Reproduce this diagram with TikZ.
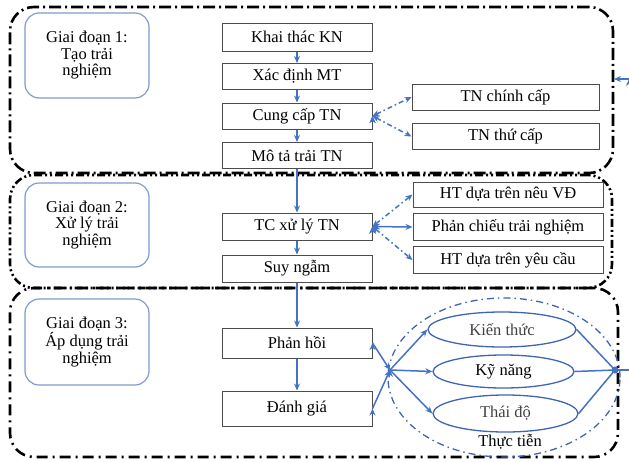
\documentclass[tikz,border=0pt]{standalone}
\usepackage{fontspec}
\setmainfont{Liberation Serif}
\usetikzlibrary{arrows.meta, positioning, shapes.geometric}

\definecolor{flowblue}{HTML}{4472C4}
\definecolor{labelblue}{HTML}{7F9BCF}
\definecolor{ovalblue}{HTML}{3F64B4}

\begin{document}
\begin{tikzpicture}[x = 1pt, y = -1pt, % pixel grid, y downwards
                > = {Stealth[length = 7pt, width = 6pt]}, % arrow head style
                node distance = 39.5pt, % distance between steps
                semithick % line style
            ]

            \tikzstyle{every node}=[font = \fontsize{16.5}{16.5}\selectfont,
            inner sep = 1pt]
            \tikzstyle{stageframe}=[draw = black, line width = 2.6pt,
            rounded corners = 24pt]
            \tikzstyle{stagelabel}=[draw = labelblue, line width = 1.2pt,
            rounded corners = 14pt, minimum width = 124pt, align = center]
            \tikzstyle{stepbox}=[draw = black!70, line width = 1pt,
            minimum width = 150pt, minimum height = 26pt]
            \tikzstyle{sidebox}=[draw = black!70, line width = 1pt,
            minimum width = 190pt, minimum height = 26pt]
            \tikzstyle{oval}=[draw = ovalblue, line width = 1.3pt, ellipse,
            inner sep = 0pt, text = black!75]
            \tikzstyle{flow}=[->, draw = flowblue, line width = 1.5pt]
            \tikzstyle{dashflow}=[<->, draw = flowblue, line width = 1.5pt,
            dash pattern = on 5pt off 3pt on 1.5pt off 3pt]

            \useasboundingbox (0,0) rectangle (629,461);

            % stage frames
            \node[stageframe, minimum width = 603pt, minimum height = 166pt,
            dash pattern = on 12pt off 4pt on 2pt off 4pt] (s1) at (311.5,90) {};
            \node[stageframe, minimum width = 602pt, minimum height = 113pt,
            dash pattern = on 8pt off 3pt on 2pt off 3pt on 2pt off 3pt] (s2)
            at (311,231.5) {};
            \node[stageframe, minimum width = 608pt, minimum height = 169pt,
            dash pattern = on 11pt off 5pt on 2pt off 5pt] (s3) at (314,372.5) {};

            % stage labels
            \node[stagelabel, minimum height = 85pt] (g1) at (87,55.5)
            {Giai đoạn 1:\\ Tạo trải\\ nghiệm};
            \node[stagelabel, minimum height = 84pt] (g2) at (87,225)
            {Giai đoạn 2:\\ Xử lý trải\\ nghiệm};
            \node[stagelabel, minimum height = 86pt] (g3) at (87,342)
            {Giai đoạn 3:\\ Áp dụng trải\\ nghiệm};

            % stage 1
            \node[stepbox, minimum height = 28pt] (khai) at (297,37) {Khai thác KN};
            \node[stepbox] (xac) [below of=khai] {Xác định MT};
            \node[stepbox] (cung) [below of=xac] {Cung cấp TN};
            \node[stepbox] (mota) [below of=cung] {Mô tả trải TN};
            \node[sidebox, minimum width = 187pt] (chinh) at (505.5,97)
            {TN chính cấp};
            \node[sidebox, minimum width = 187pt] (thu) [below of=chinh]
            {TN thứ cấp};

            % stage 2
            \node[stepbox, minimum height = 27pt] (tc) at (297,226.5)
            {TC xử lý TN};
            \node[stepbox, minimum height = 27pt, node distance = 42pt] (suy)
            [below of=tc] {Suy ngẫm};
            \node[sidebox, minimum height = 25pt] (neu) at (508,194.5)
            {HT dựa trên nêu VĐ};
            \node[sidebox, minimum height = 27pt, node distance = 32.5pt] (phan)
            [below of=neu] {Phản chiếu trải nghiệm};
            \node[sidebox, minimum height = 27pt, node distance = 33pt] (yeu)
            [below of=phan] {HT dựa trên yêu cầu};

            % stage 3
            \node[stepbox, minimum height = 30pt] (hoi) at (297,343) {Phản hồi};
            \node[stepbox, minimum height = 35pt, node distance = 65.5pt] (gia)
            [below of=hoi] {Đánh giá};
            \node[draw = ovalblue, ellipse, line width = 1.3pt,
            dash pattern = on 7pt off 4pt on 1.5pt off 4pt, minimum width = 232pt,
            minimum height = 159pt] (thuc) at (504,377.5) {};
            \node[oval, minimum width = 148pt, minimum height = 35pt] (kien)
            at (502,329.5) {Kiến thức};
            \node[oval, minimum width = 141pt, minimum height = 33pt,
            text = black] (ky) at (503.5,371.5) {Kỹ năng};
            \node[oval, minimum width = 145pt, minimum height = 37pt] (thai)
            at (505.5,413.5) {Thái độ};
            \node (thuctien) at (510,442) {Thực tiễn};

            \coordinate (inL) at (390,370);
            \coordinate (inR) at (615,370);
            \coordinate (outR) at (629,370);
            \coordinate (backR) at (629,79);
            \coordinate (backL) at (614,79);

            \path[flow] (khai) edge (xac); \path[flow] (xac) edge (cung);
            \path[flow] (cung) edge (mota); \path[flow] (mota) edge (tc);
            \path[flow] (tc) edge (suy); \path[flow] (suy) edge (hoi);
            \path[flow] (hoi) edge (gia);

            \path[dashflow] (cung.east) edge (chinh.west)
            edge (thu.west);
            \path[dashflow] (tc.east) edge (neu.west) edge (yeu.west);
            \path[flow, <->] (tc.east) edge (phan.west);

            \path[flow] (hoi.east) edge (inL); \path[flow] (gia.east) edge (inL);
            \path[flow] (inL) edge (kien.west) edge (ky.west)
            edge (thai.west);
            \path[draw = flowblue, line width = 1.5pt] (kien.east) edge (inR)
            (ky.east) edge (inR) (thai.east) edge (inR);
            \fill[flowblue] (inR) circle (3.5pt);
            \path[draw = flowblue, line width = 1.5pt] (inR) edge (outR);
            \path[flow] (backR) edge (backL);
        \end{tikzpicture}
\end{document}
